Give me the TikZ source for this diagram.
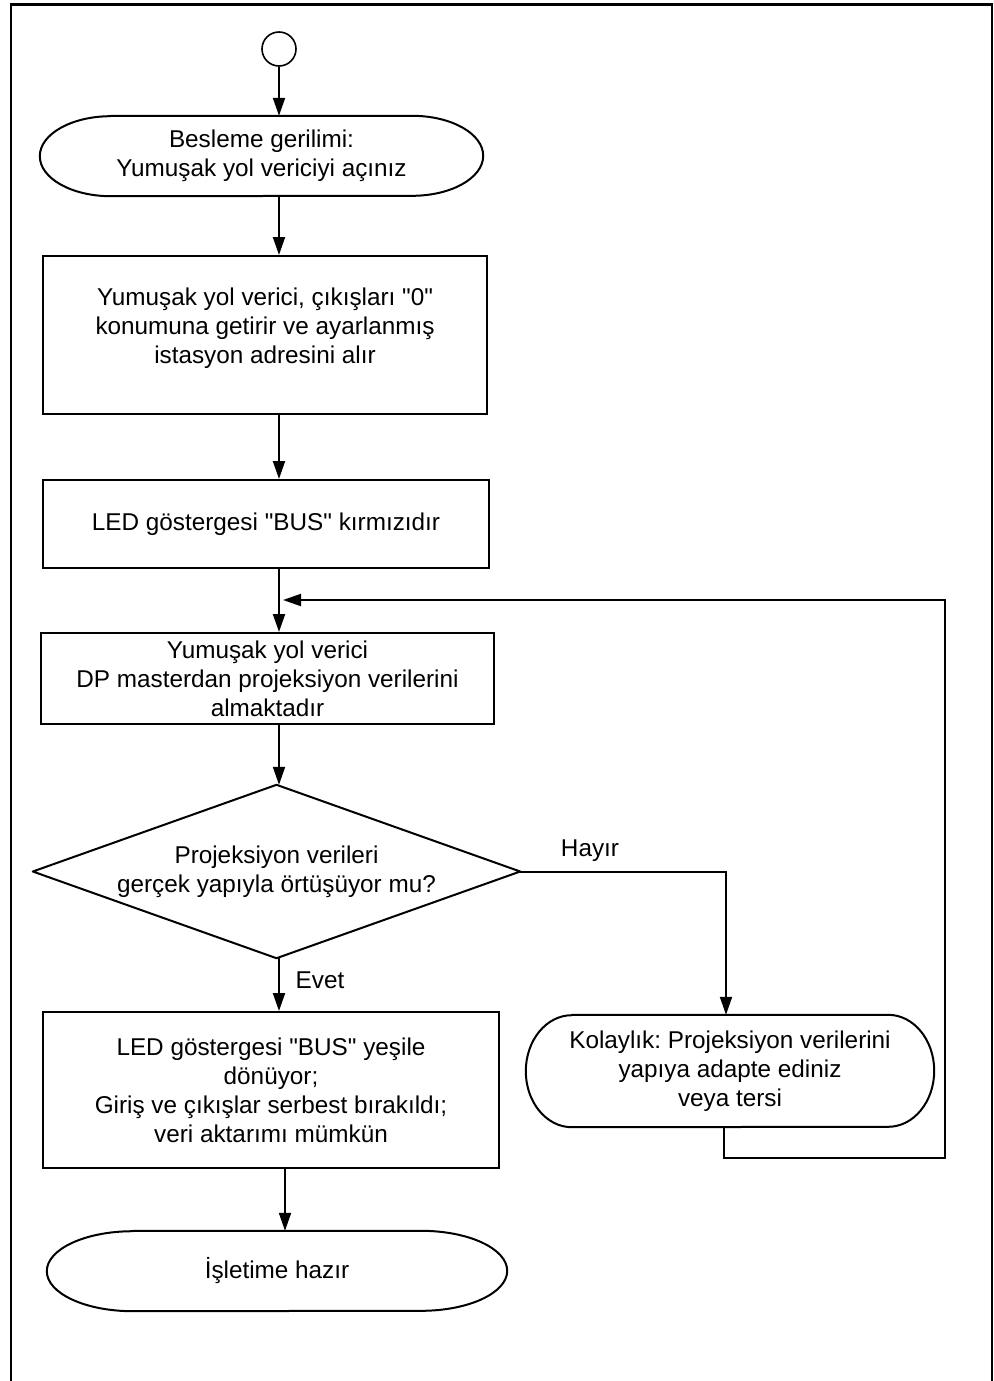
\documentclass[tikz,border=0pt]{standalone}
\usepackage{fontspec}
\setmainfont{Liberation Sans}[Ligatures=TeXOff]
\usetikzlibrary{arrows.meta,calc}
\frenchspacing

% Terminator outline around a named node: #1 node, #2 depth of the rounded ends, #3 half height
\newcommand\stadiumoutline[3]{%
  \draw[outline] ([xshift=#2pt]#1.north west) -- ([xshift=-#2pt]#1.north east)
    arc[start angle=90,end angle=-90,x radius=#2pt,y radius=#3pt]
    -- ([xshift=#2pt]#1.south west)
    arc[start angle=270,end angle=90,x radius=#2pt,y radius=#3pt] -- cycle;}

\begin{document}
\begin{tikzpicture}[x=1pt,y=-1pt,
  every node/.style={font=\fontsize{24.3}{29}\selectfont, align=center, inner sep=0pt},
  outline/.style={line width=2pt, line join=round},
  stepbox/.style={draw, line width=2pt, rectangle},
  termnode/.style={rectangle, draw=none},
  flow/.style={line width=2pt, -{Triangle[length=18pt,width=12pt]}}]

\useasboundingbox (0,0) rectangle (993,1381);

% open frame
\draw[line width=2pt] (11,1381) -- (11,4.5) -- (991.5,4.5) -- (991.5,1381);
\draw[line width=3pt] (10,4.5) -- (992.5,4.5);

% main spine of the flow
\coordinate (spine) at (279,0);
\coordinate (spinelow) at (285,0);

\node[draw, circle, minimum size=34pt, line width=1.6pt] (start) at (279,49) {};

\node[termnode, minimum width=443pt, minimum height=80pt] (power) at (261.5,156)
  {Besleme gerilimi:\\Yumuşak yol vericiyi açınız};
\stadiumoutline{power}{71}{40}

\node[stepbox, minimum width=444pt, minimum height=158pt] (init) at (265,335)
  {Yumuşak yol verici, çıkışları "0"\\konumuna getirir ve ayarlanmış\\istasyon adresini alır\\[-10pt]\mbox{}};

\node[stepbox, minimum width=446pt, minimum height=88pt] (busred) at (266,524)
  {LED göstergesi "BUS" kırmızıdır};

\node[stepbox, minimum width=453pt, minimum height=91pt] (recv) at (267.5,678.5)
  {Yumuşak yol verici\\DP masterdan projeksiyon verilerini\\almaktadır};

\node[termnode, minimum width=487pt, minimum height=173pt] (check) at (276.5,871.5)
  {Projeksiyon verileri\\gerçek yapıyla örtüşüyor mu?};
\draw[outline] (check.west) -- (check.north) -- (check.east) -- (check.south) -- cycle;

\node[stepbox, minimum width=456pt, minimum height=156pt] (busgreen) at (271,1090)
  {LED göstergesi "BUS" yeşile\\dönüyor;\\Giriş ve çıkışlar serbest bırakıldı;\\veri aktarımı mümkün};

\node[termnode, minimum width=408pt, minimum height=112pt] (adapt) at (730,1071)
  {Kolaylık: Projeksiyon verilerini\\yapıya adapte ediniz\\veya tersi};
\stadiumoutline{adapt}{46}{56}

\node[termnode, minimum width=460pt, minimum height=80pt] (ready) at (277,1271)
  {İşletime hazır};
\stadiumoutline{ready}{86}{40}

\node (no) at (590,851) {Hayır};
\node (yes) at (320,980) {Evet};

% connectors
\draw[flow] (start.south) -- (spine |- power.north);
\draw[flow] (spine |- power.south) -- (spine |- init.north);
\draw[flow] (spine |- init.south) -- (spine |- busred.north);
\draw[flow] (spine |- busred.south) -- (spine |- recv.north);
\draw[flow] (spine |- recv.south) -- (spine |- check.north);
\draw[flow] (spine |- check.south) -- (spine |- busgreen.north);
\draw[flow] (spinelow |- busgreen.south) -- (spinelow |- ready.north);
\draw[flow] (check.east) -| ([xshift=-4pt]adapt.north);

\coordinate (back) at (945,600);
\draw[flow, shorten >=4pt] ([xshift=-6pt]adapt.south) -- ++(0,31) -| (back) -- (spine |- back);

\end{tikzpicture}
\end{document}
